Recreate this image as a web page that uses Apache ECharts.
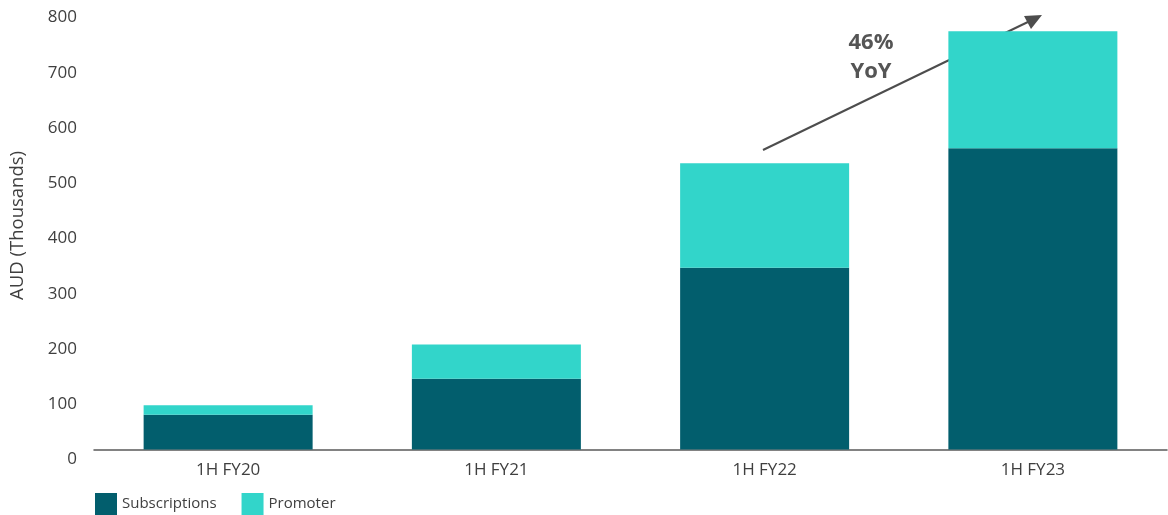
<!DOCTYPE html>
<html><head><meta charset="utf-8">
<script src="https://cdn.jsdelivr.net/npm/echarts@6/dist/echarts.min.js"></script>
<style>html,body{margin:0;padding:0;background:#fff}#c{width:1168px;height:515px}</style>
</head><body><div id="c"></div>
<script>
const categories = ['1H FY20', '1H FY21', '1H FY22', '1H FY23'];
const subscriptions = [63, 128, 329, 545];
const promoter = [17, 62, 189, 212];
const seriesNames = ['Subscriptions', 'Promoter'];
const annotation = '46%\nYoY';

const FONT = '"Open Sans", sans-serif';
const chart = echarts.init(document.getElementById('c'));
chart.setOption({
  animation: false,
  textStyle: { fontFamily: FONT },
  grid: { left: 94, right: 1, top: 7.4, bottom: 65.5, outerBoundsMode: 'none', containLabel: false },
  legend: {
    left: 95, bottom: 0, padding: 0, itemWidth: 22, itemHeight: 22, itemGap: 25,
    icon: 'rect',
    textStyle: { fontSize: 15, color: '#404040', fontFamily: FONT },
    data: seriesNames
  },
  xAxis: {
    type: 'category', data: categories,
    axisLine: { lineStyle: { color: '#595959', width: 1.5 } },
    axisTick: { show: false },
    axisLabel: { fontSize: 17, color: '#3f3f3f', margin: 12 }
  },
  yAxis: {
    type: 'value', min: 0, max: 800, interval: 100,
    name: 'AUD (Thousands)', nameLocation: 'middle', nameGap: 67, nameRotate: 90,
    nameTextStyle: { fontSize: 18.5, color: '#3f3f3f', padding: [0, 0, 0, 6] },
    splitLine: { show: false },
    axisLine: { show: false }, axisTick: { show: false },
    axisLabel: { fontSize: 17, color: '#3f3f3f', margin: 17, verticalAlign: 'top', lineHeight: 20 }
  },
  series: [
    { name: seriesNames[0], type: 'bar', stack: 't', data: subscriptions, barWidth: 169,
      itemStyle: { color: '#025E6D' } },
    { name: seriesNames[1], type: 'bar', stack: 't', data: promoter, barWidth: 169,
      itemStyle: { color: '#32D5CA' } }
  ],
  graphic: [
    { type: 'line', shape: { x1: 763, y1: 150, x2: 1032, y2: 20 },
      style: { stroke: '#4D4D4D', lineWidth: 2 } },
    { type: 'polygon', shape: { points: [[1042, 15], [1024, 16], [1031, 29]] },
      style: { fill: '#4D4D4D' } },
    { type: 'text', x: 871, y: 57,
      style: { text: annotation, fontSize: 22, fontWeight: 'bold', fill: '#555555',
        align: 'center', verticalAlign: 'middle', lineHeight: 29, fontFamily: FONT } }
  ]
});
</script></body></html>
